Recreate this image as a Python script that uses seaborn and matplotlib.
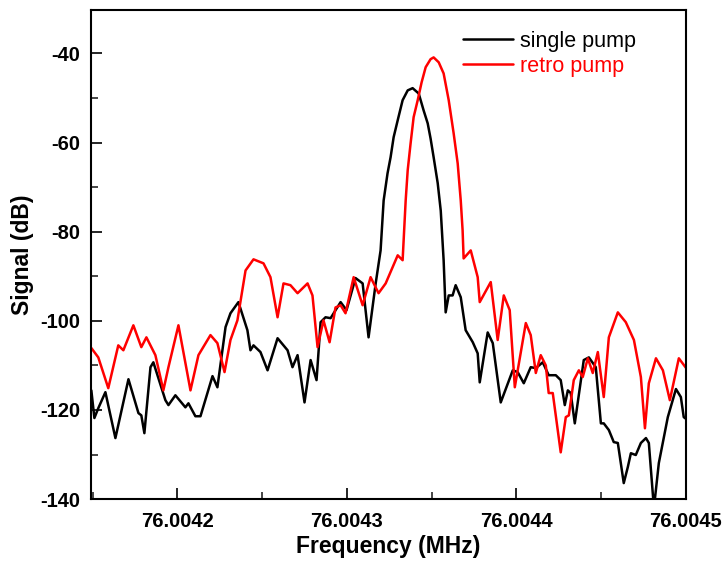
import matplotlib
matplotlib.use("Agg")
import matplotlib.pyplot as plt
import matplotlib.ticker as mticker
import numpy as np
import pandas as pd
import seaborn as sns

# ---- data (frequency in MHz, signal in dB) ----
single_freq = [
    76.0041492, 76.0041510, 76.0041533, 76.0041575, 76.0041634, 76.0041711,
    76.0041770, 76.0041787, 76.0041805, 76.0041841, 76.0041858, 76.0041929,
    76.0041947, 76.0041988, 76.0042047, 76.0042065, 76.0042106, 76.0042136,
    76.0042207, 76.0042236, 76.0042284, 76.0042313, 76.0042360, 76.0042413,
    76.0042431, 76.0042449, 76.0042490, 76.0042532, 76.0042591, 76.0042650,
    76.0042679, 76.0042709, 76.0042750, 76.0042786, 76.0042821, 76.0042845,
    76.0042874, 76.0042904, 76.0042963, 76.0042998, 76.0043051, 76.0043093,
    76.0043128, 76.0043170, 76.0043199, 76.0043217, 76.0043240, 76.0043258,
    76.0043276, 76.0043300, 76.0043329, 76.0043359, 76.0043388, 76.0043424,
    76.0043453, 76.0043477, 76.0043494, 76.0043512, 76.0043536, 76.0043554,
    76.0043571, 76.0043583, 76.0043601, 76.0043624, 76.0043642,
    76.0043672, 76.0043701, 76.0043743, 76.0043772, 76.0043784, 76.0043831,
    76.0043861, 76.0043908, 76.0043979, 76.0044008, 76.0044044, 76.0044085,
    76.0044115, 76.0044156, 76.0044191, 76.0044233, 76.0044262, 76.0044286,
    76.0044304, 76.0044321, 76.0044345, 76.0044398, 76.0044428, 76.0044469,
    76.0044499, 76.0044516, 76.0044546, 76.0044575, 76.0044599, 76.0044634,
    76.0044658, 76.0044676, 76.0044705, 76.0044735, 76.0044765, 76.0044782,
    76.0044812, 76.0044841, 76.0044894, 76.0044942, 76.0044971, 76.0044988,
    76.0045012,
]
single_db = [
    -115.6, -121.8, -119.6, -116.0, -126.3, -113.1,
    -120.7, -121.2, -125.2, -110.4, -109.3, -117.8,
    -118.9, -116.7, -119.4, -118.5, -121.4, -121.4,
    -112.4, -114.9, -101.4, -98.3, -95.8, -102.1,
    -106.6, -105.5, -107.0, -111.1, -103.9, -106.6,
    -110.4, -107.7, -118.3, -108.8, -113.3, -100.3,
    -99.2, -99.4, -95.8, -97.6, -90.4, -91.6,
    -103.7, -91.6, -84.2, -73.0, -66.9, -63.3,
    -58.8, -55.0, -50.5, -48.3, -47.8, -49.0,
    -52.8, -55.7, -59.1, -63.3, -69.1, -75.3,
    -86.4, -98.1, -94.3, -94.3, -92.0,
    -94.7, -102.1, -104.8, -107.3, -113.8, -102.6,
    -105.0, -118.3, -111.1, -111.5, -114.0, -110.4,
    -110.6, -109.3, -112.2, -112.2, -113.3, -118.9,
    -115.6, -116.2, -123.0, -108.8, -108.2, -110.4,
    -123.0, -123.0, -124.5, -127.2, -127.4, -136.4,
    -132.8, -129.7, -130.1, -127.4, -126.3, -127.4,
    -142.0, -131.9, -121.6, -115.3, -117.1, -121.6,
    -122.3,
]

retro_freq = [
    76.0041492, 76.0041533, 76.0041592, 76.0041651, 76.0041681, 76.0041740,
    76.0041787, 76.0041817, 76.0041870, 76.0041917, 76.0041947, 76.0042006,
    76.0042077, 76.0042124, 76.0042195, 76.0042236, 76.0042278, 76.0042313,
    76.0042354, 76.0042402, 76.0042449, 76.0042508, 76.0042549, 76.0042591,
    76.0042626, 76.0042667, 76.0042709, 76.0042768, 76.0042797, 76.0042827,
    76.0042862, 76.0042898, 76.0042933, 76.0042963, 76.0042992, 76.0043040,
    76.0043093, 76.0043140, 76.0043187, 76.0043229, 76.0043300, 76.0043329,
    76.0043347, 76.0043359, 76.0043376, 76.0043394, 76.0043418, 76.0043441,
    76.0043465, 76.0043494, 76.0043512, 76.0043542, 76.0043571, 76.0043601,
    76.0043630, 76.0043654, 76.0043672, 76.0043683, 76.0043689, 76.0043731,
    76.0043772, 76.0043784,
    76.0043849, 76.0043890, 76.0043926, 76.0043961, 76.0043991, 76.0044056,
    76.0044085, 76.0044115, 76.0044144, 76.0044174, 76.0044191, 76.0044215,
    76.0044262, 76.0044292, 76.0044310, 76.0044339, 76.0044369, 76.0044392,
    76.0044422, 76.0044451, 76.0044481, 76.0044516, 76.0044546, 76.0044599,
    76.0044646, 76.0044694, 76.0044735, 76.0044759, 76.0044782, 76.0044824,
    76.0044865, 76.0044906, 76.0044959, 76.0045012,
]
retro_db = [
    -106.1, -108.2, -115.1, -105.5, -106.6, -101.0,
    -105.9, -103.7, -107.7, -115.6, -110.4, -101.0,
    -115.6, -107.7, -103.2, -105.0, -111.5, -104.3,
    -99.9, -88.7, -86.2, -87.1, -90.2, -99.2,
    -91.6, -92.0, -93.8, -91.6, -94.3, -105.9,
    -99.9, -104.8, -97.0, -96.5, -98.3, -90.2,
    -96.5, -90.2, -93.8, -91.6, -85.3, -86.4,
    -73.0, -66.2, -60.2, -54.3, -50.5, -46.5,
    -43.1, -41.3, -40.9, -42.0, -44.5, -50.5,
    -57.9, -64.7, -73.0, -79.7, -86.0, -84.2,
    -90.2, -95.8,
    -91.3, -104.3, -94.3, -97.6, -114.9, -100.5,
    -103.2, -111.7, -107.7, -110.0, -116.2, -116.2,
    -129.5, -121.6, -121.2, -113.3, -111.1, -112.6,
    -108.4, -111.7, -107.0, -117.1, -103.7, -98.1,
    -100.3, -104.3, -112.6, -124.1, -114.0, -108.4,
    -111.1, -117.8, -108.4, -111.1,
]

series_names = ["single pump", "retro pump"]
series_colors = ["#000000", "#ff0000"]
x_ticks = [76.0042, 76.0043, 76.0044, 76.0045]
y_ticks = [-140, -120, -100, -80, -60, -40]

df = pd.concat([
    pd.DataFrame({"freq": single_freq, "db": single_db, "series": series_names[0]}),
    pd.DataFrame({"freq": retro_freq, "db": retro_db, "series": series_names[1]}),
], ignore_index=True)

sns.set_theme(style="ticks")
plt.rcParams["font.family"] = ["Liberation Sans", "DejaVu Sans"]
plt.rcParams["axes.labelcolor"] = "black"
plt.rcParams["text.color"] = "black"

fig = plt.figure(figsize=(7.28, 5.64), dpi=100)
ax = fig.add_axes([0.125, 0.115, 0.817, 0.867])

sns.lineplot(data=df, x="freq", y="db", hue="series", hue_order=series_names,
             palette=series_colors, sort=False, estimator=None, linewidth=1.8,
             ax=ax, legend=True)
for ln in ax.get_lines():
    ln.set_solid_joinstyle("round")

ax.set_xlim(76.004149, 76.0045)
ax.set_ylim(-140, -30.3)
ax.set_xticks(x_ticks)
ax.set_yticks(y_ticks)
ax.xaxis.set_minor_locator(mticker.MultipleLocator(0.00005))
ax.yaxis.set_minor_locator(mticker.MultipleLocator(10))
ax.xaxis.set_major_formatter(mticker.FormatStrFormatter("%.4f"))
ax.yaxis.set_major_formatter(mticker.FormatStrFormatter("%d"))

ax.tick_params(axis="both", which="major", direction="in", length=8, width=1.2,
               labelsize=14.5, colors="black")
ax.tick_params(axis="x", which="major", pad=9)
ax.tick_params(axis="y", which="major", pad=8)
ax.tick_params(axis="both", which="minor", direction="in", length=5, width=1.2)
for lab in ax.get_xticklabels() + ax.get_yticklabels():
    lab.set_fontweight("bold")

for sp in ax.spines.values():
    sp.set_visible(True)
    sp.set_linewidth(1.5)
    sp.set_color("black")

ax.set_xlabel("Frequency (MHz)", fontsize=16.5, fontweight="bold", labelpad=3,
              color="black")
ax.set_ylabel("Signal (dB)", fontsize=16.5, fontweight="bold", labelpad=4,
              color="black")

leg = ax.legend(loc="upper left", bbox_to_anchor=(0.625, 0.958), frameon=False,
                fontsize=15.5, handlelength=2.35, handletextpad=0.3,
                labelspacing=0.2, borderaxespad=0.0, borderpad=0.0)
for txt, col in zip(leg.get_texts(), series_colors):
    txt.set_color(col)
for line in leg.get_lines():
    line.set_linewidth(1.8)

fig.savefig("out.png", dpi=100)
